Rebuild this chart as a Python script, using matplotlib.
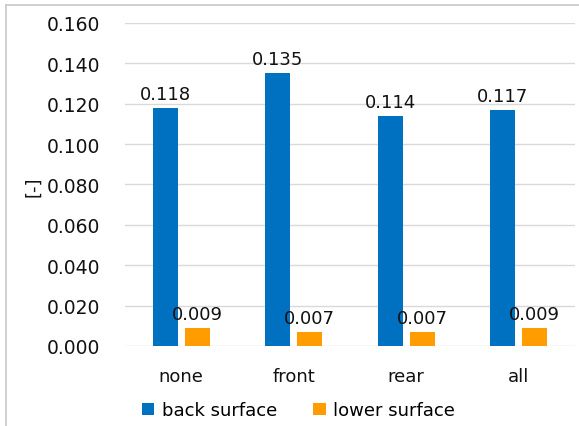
import matplotlib
matplotlib.use("Agg")
from matplotlib import pyplot as plt
from matplotlib.lines import Line2D
import numpy as np

# values per filter configuration
categories = ["none", "front", "rear", "all"]
back_surface = [0.118, 0.135, 0.114, 0.117]
lower_surface = [0.009, 0.007, 0.007, 0.009]
y_ticks = [0.0, 0.02, 0.04, 0.06, 0.08, 0.10, 0.12, 0.14, 0.16]

BLUE = "#0070C0"
ORANGE = "#FF9C00"
GRID = "#D9D9D9"


def main():
    plt.rcParams["font.family"] = ["DejaVu Sans"]
    fig = plt.figure(figsize=(5.79, 4.27), dpi=100)
    ax = fig.add_axes([0.216, 0.1874, 0.777, 0.7564])

    x = np.arange(len(categories))
    w = 0.222
    off = 0.142
    b1 = ax.bar(x - off, back_surface, w, color=BLUE, label="back surface", zorder=3)
    b2 = ax.bar(x + off, lower_surface, w, color=ORANGE, label="lower surface", zorder=3)

    # value labels above each bar
    for bars, vals in ((b1, back_surface), (b2, lower_surface)):
        for rect, v in zip(bars, vals):
            ax.annotate("%.3f" % v, (rect.get_x() + rect.get_width() / 2, v),
                        xytext=(0, 6.5), textcoords="offset points",
                        ha="center", va="baseline", fontsize=13, color="#111111")

    ax.set_xlim(-0.5, len(categories) - 0.5)
    ax.set_ylim(0, 0.16)
    ax.set_yticks(y_ticks)
    ax.set_yticklabels(["%.3f" % t for t in y_ticks])
    ax.set_xticks(x)
    ax.set_xticklabels(categories)
    ax.tick_params(axis="both", length=0, labelsize=13, colors="#111111")
    ax.tick_params(axis="y", labelsize=13.5, pad=18)
    ax.tick_params(axis="x", pad=15)
    ax.grid(axis="y", color=GRID, linewidth=1, zorder=0)
    for s in ax.spines.values():
        s.set_visible(False)

    fig.text(33 / 579, 1 - 187 / 427, "[-]", rotation=90, ha="center", va="center",
             fontsize=13, color="#111111")

    fig.legend(loc="center", bbox_to_anchor=(0.515, 0.037), ncol=2, frameon=False,
               fontsize=13, handlelength=0.7, handleheight=0.7, handletextpad=0.4,
               columnspacing=2.0, borderaxespad=0)

    # chart border (top and left edges)
    fig.add_artist(Line2D([6 / 579, 1], [1 - 6 / 427] * 2, color="#C8C8C8", lw=1.2))
    fig.add_artist(Line2D([6 / 579] * 2, [0, 1 - 6 / 427], color="#C8C8C8", lw=1.2))

    fig.savefig("out.png", dpi=100)


if __name__ == "__main__":
    main()
